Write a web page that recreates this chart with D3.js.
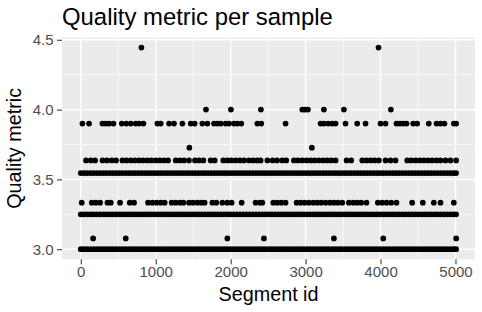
<!DOCTYPE html>
<html>
<head>
<meta charset="utf-8">
<script src="https://cdn.jsdelivr.net/npm/d3@7"></script>
<style>
  html, body { margin: 0; padding: 0; background: #ffffff; }
  svg { display: block; }
  text { font-family: "Liberation Sans", Arial, Helvetica, sans-serif; }
</style>
</head>
<body>
<div id="chart"></div>
<script>
// ---------------- DATA ----------------
const chartTitle = "Quality metric per sample";
const xTitle = "Segment id";
const yTitle = "Quality metric";

const xTicks = [0, 1000, 2000, 3000, 4000, 5000];
const yTicks = [3.0, 3.5, 4.0, 4.5];
const xMinorTicks = [500, 1500, 2500, 3500, 4500];
const yMinorTicks = [3.25, 3.75, 4.25];

// Levels that are (almost) continuously populated along the whole segment range
const denseLevels = [3.0, 3.25, 3.545];
const denseSegmentIds = [0, 42, 85, 128, 170, 212, 255, 298, 340, 383, 425, 468, 510, 552, 595, 638, 680, 722, 765, 808,
  850, 893, 935, 978, 1020, 1062, 1105, 1148, 1190, 1232, 1275, 1318, 1360, 1403, 1445, 1488, 1530, 1572, 1615, 1658,
  1700, 1742, 1785, 1828, 1870, 1913, 1955, 1998, 2040, 2082, 2125, 2168, 2210, 2252, 2295, 2338, 2380, 2423, 2465, 2508,
  2550, 2592, 2635, 2678, 2720, 2762, 2805, 2848, 2890, 2933, 2975, 3018, 3060, 3102, 3145, 3188, 3230, 3272, 3315, 3358,
  3400, 3443, 3485, 3528, 3570, 3612, 3655, 3698, 3740, 3782, 3825, 3868, 3910, 3953, 3995, 4038, 4080, 4122, 4165, 4208,
  4250, 4292, 4335, 4378, 4420, 4463, 4505, 4548, 4590, 4632, 4675, 4718, 4760, 4802, 4845, 4888, 4930, 4973, 5008];

// Sparse levels: segment ids of each point
const ids3077 = [165, 600, 1956, 2444, 3378, 4036, 5009];
const ids3333 = [13, 147, 200, 258, 356, 400, 524, 653, 711, 898, 956, 1013, 1067, 1120, 1213, 1267, 1324, 1369,
  1444, 1498, 1556, 1609, 1653, 1756, 1809, 1889, 1956, 2013, 2147, 2333, 2391, 2422, 2569, 2622, 2676, 2733,
  2880, 2933, 2987, 3044, 3102, 3156, 3209, 3267, 3324, 3378, 3431, 3489, 3578, 3636, 3689, 3742, 3813, 3964,
  4022, 4080, 4142, 4213, 4422, 4564, 4711, 4800, 4978];
const ids3636 = [70, 133, 191, 290, 350, 413, 471, 556, 609, 667, 720, 778, 831, 889, 942, 1000, 1053, 1111, 1164,
  1267, 1324, 1378, 1444, 1524, 1578, 1636, 1733, 1787, 1902, 1956, 2009, 2067, 2124, 2178, 2244, 2302, 2356,
  2400, 2490, 2560, 2620, 2689, 2742, 2844, 2898, 2956, 3013, 3067, 3120, 3178, 3236, 3289, 3342, 3400, 3547,
  3609, 3756, 3813, 3867, 3920, 3978, 4067, 4133, 4200, 4356, 4409, 4467, 4524, 4578, 4636, 4689, 4747, 4800,
  4867, 4933, 5009];
const ids3727 = [1449, 3084];
const ids3900 = [22, 111, 289, 333, 378, 436, 547, 609, 667, 733, 778, 836, 1022, 1067, 1178, 1244, 1356, 1467,
  1520, 1622, 1689, 1778, 1822, 1867, 1933, 1978, 2044, 2089, 2142, 2356, 2409, 2733, 3200, 3244, 3302, 3356,
  3400, 3533, 3689, 3800, 4000, 4067, 4213, 4258, 4302, 4347, 4436, 4489, 4644, 4747, 4800, 4853, 4978, 5010];
const ids4000 = [1671, 2004, 2404, 2956, 2991, 3031, 3244, 3511, 4138];
const ids4444 = [809, 3973];

const sparseLevels = [3.077, 3.333, 3.636, 3.727, 3.9, 4.0, 4.444];
const sparseIds = [ids3077, ids3333, ids3636, ids3727, ids3900, ids4000, ids4444];

// ---------------- BUILD POINT TABLE ----------------
const points = [];
denseLevels.forEach(lv => denseSegmentIds.forEach(s => points.push({ seg: s, q: lv })));
sparseLevels.forEach((lv, i) => sparseIds[i].forEach(s => points.push({ seg: s, q: lv })));

// ---------------- LAYOUT ----------------
const W = 482, H = 312;
const panel = { left: 62, right: 475, top: 37.5, bottom: 259.3 };

const xExt = d3.extent(points, d => d.seg);
const yExt = d3.extent(points, d => d.q);
const xPad = (xExt[1] - xExt[0]) * 0.05;
const yPad = (yExt[1] - yExt[0]) * 0.05;

const x = d3.scaleLinear().domain([xExt[0] - xPad, xExt[1] + xPad]).range([panel.left, panel.right]);
const y = d3.scaleLinear().domain([yExt[0] - yPad, yExt[1] + yPad]).range([panel.bottom, panel.top]);

const svg = d3.select("#chart").append("svg").attr("width", W).attr("height", H);

// panel background
svg.append("rect")
  .attr("x", panel.left).attr("y", panel.top)
  .attr("width", panel.right - panel.left).attr("height", panel.bottom - panel.top)
  .attr("fill", "#EBEBEB");

const grid = svg.append("g");
// minor grid
grid.selectAll(".xminor").data(xMinorTicks).enter().append("line")
  .attr("x1", d => x(d)).attr("x2", d => x(d)).attr("y1", panel.top).attr("y2", panel.bottom)
  .attr("stroke", "#fff").attr("stroke-width", 0.7);
grid.selectAll(".yminor").data(yMinorTicks).enter().append("line")
  .attr("y1", d => y(d)).attr("y2", d => y(d)).attr("x1", panel.left).attr("x2", panel.right)
  .attr("stroke", "#fff").attr("stroke-width", 0.7);
// major grid
grid.selectAll(".xmajor").data(xTicks).enter().append("line")
  .attr("x1", d => x(d)).attr("x2", d => x(d)).attr("y1", panel.top).attr("y2", panel.bottom)
  .attr("stroke", "#fff").attr("stroke-width", 1.4);
grid.selectAll(".ymajor").data(yTicks).enter().append("line")
  .attr("y1", d => y(d)).attr("y2", d => y(d)).attr("x1", panel.left).attr("x2", panel.right)
  .attr("stroke", "#fff").attr("stroke-width", 1.4);

// points
svg.append("g").selectAll("circle").data(points).enter().append("circle")
  .attr("cx", d => x(d.seg)).attr("cy", d => y(d.q)).attr("r", 2.85).attr("fill", "#000");

// axes
const xAxis = d3.axisBottom(x).tickValues(xTicks).tickFormat(d3.format("d")).tickSize(5).tickPadding(2);
const yAxis = d3.axisLeft(y).tickValues(yTicks).tickFormat(d3.format(".1f")).tickSize(5).tickPadding(3.5);

const gx = svg.append("g").attr("transform", `translate(0,${panel.bottom})`).call(xAxis);
const gy = svg.append("g").attr("transform", `translate(${panel.left},0)`).call(yAxis);
[gx, gy].forEach(g => {
  g.select(".domain").remove();
  g.selectAll(".tick line").attr("stroke", "#333333").attr("stroke-width", 1.05);
  g.selectAll(".tick text").attr("fill", "#4D4D4D").style("font-size", "15px")
    .style("font-family", "'Liberation Sans', Arial, sans-serif");
});

// titles
svg.append("text").attr("x", panel.left).attr("y", 25)
  .style("font-size", "23.9px").attr("fill", "#000").text(chartTitle);
svg.append("text").attr("x", (panel.left + panel.right) / 2).attr("y", 301)
  .attr("text-anchor", "middle").style("font-size", "19.8px").attr("fill", "#000").text(xTitle);
svg.append("text")
  .attr("transform", `translate(21,${(panel.top + panel.bottom) / 2}) rotate(-90)`)
  .attr("text-anchor", "middle").style("font-size", "19.8px").attr("fill", "#000").text(yTitle);
</script>
</body>
</html>
